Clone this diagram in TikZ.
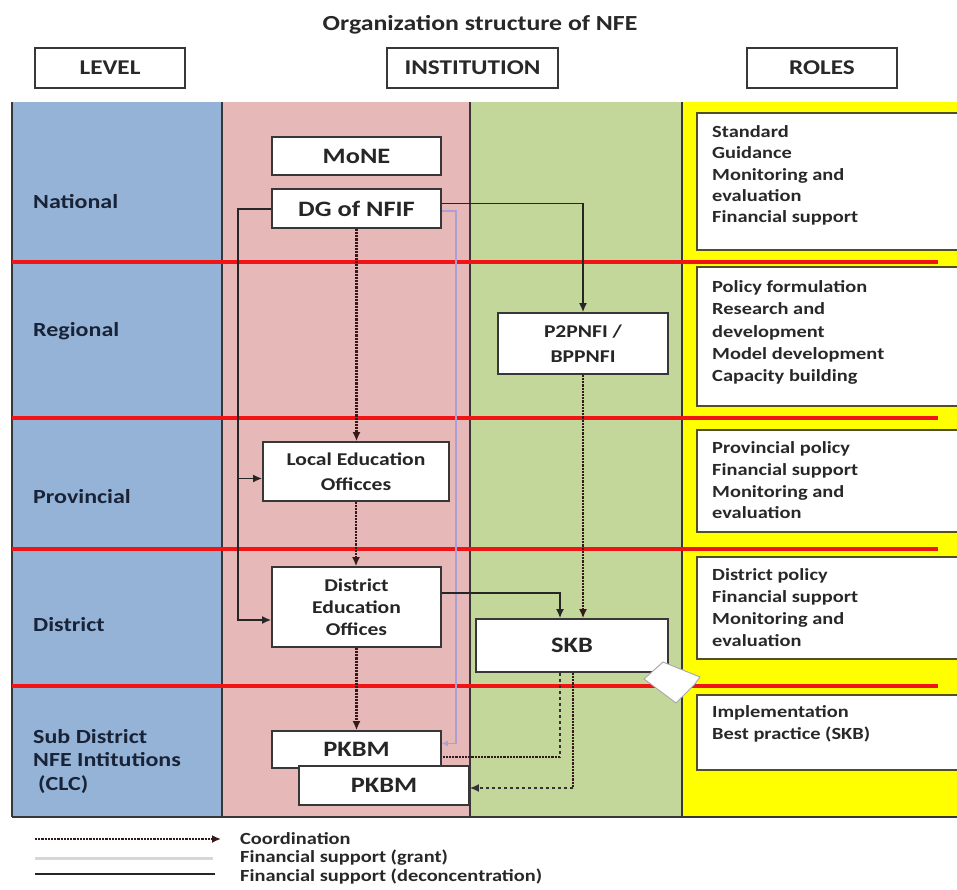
\documentclass[tikz,border=0pt]{standalone}
\usepackage{fontspec}
\setmainfont{Carlito}[FakeStretch=1.2]
\usetikzlibrary{arrows.meta,calc}
\definecolor{lvblue}{RGB}{149,179,215}
\definecolor{inpink}{RGB}{230,185,184}
\definecolor{ingreen}{RGB}{196,215,155}
\definecolor{rlyellow}{RGB}{255,255,0}
\definecolor{bandred}{RGB}{240,20,20}
\definecolor{edgegray}{RGB}{55,55,55}
\definecolor{grantc}{RGB}{170,160,215}
\definecolor{legendgrant}{RGB}{215,215,215}
\definecolor{navytext}{RGB}{25,35,55}
\definecolor{textgray}{RGB}{40,40,40}
\definecolor{coordc}{RGB}{55,25,25}
\definecolor{roleedge}{RGB}{80,80,35}
\newcommand\fsz[2]{\fontsize{#1}{#2}\selectfont}
\begin{document}
\begin{tikzpicture}[x=1pt,y=-1pt,
 hdbox/.style={draw=edgegray,line width=1.5pt,fill=white,minimum width=150pt,minimum height=40pt,inner sep=0pt,font=\fsz{21}{24}\bfseries,text=textgray},
 ibox/.style={draw=edgegray,line width=1.6pt,fill=white,inner sep=0pt,align=center,text=black!85},
 rbox/.style={draw=roleedge,line width=1.5pt,fill=white,inner sep=0pt,minimum width=262pt},
 rtext/.style={anchor=west,align=left,inner sep=0pt,text=textgray},
 lvl/.style={anchor=west,align=left,inner sep=0pt,font=\fsz{20}{23.5}\bfseries,text=navytext},
 tip/.style={-{Latex[length=9pt,width=8pt]}},
 coord/.style={densely dotted,line width=2.2pt,draw=coordc,tip},
 decon/.style={line width=1.9pt,draw=black!85,tip},
 grant/.style={line width=1.8pt,draw=grantc},
 legtext/.style={anchor=west,inner sep=0pt,font=\fsz{17}{19}\bfseries,text=textgray}
]
\useasboundingbox (0,0) rectangle (957,890);
\fill[white] (0,0) rectangle (957,890);

% band
\fill[lvblue] (12,102) rectangle (222,817);
\fill[inpink] (222,102) rectangle (470,817);
\fill[ingreen] (470,102) rectangle (682,817);
\fill[rlyellow] (682,102) rectangle (957,817);
\foreach \xx in {12,222,470,682} \draw[edgegray,line width=1.7pt] (\xx,102) -- (\xx,817);
\draw[edgegray,line width=1.7pt] (12,817) -- (957,817);
\foreach \yy in {262,418,549,686} \draw[bandred,line width=3.4pt] (12,\yy) -- (938,\yy);

% title and headers
\node[font=\fsz{21.5}{24}\bfseries,text=textgray] (title) at (480,25) {Organization structure of NFE};
\node[hdbox] (hlevel) at (110,68) {LEVEL};
\node[hdbox,minimum width=171pt] (hinst) at (472.5,68) {INSTITUTION};
\node[hdbox] (hroles) at (822,68) {ROLES};

% levels
\node[lvl] (lnat) at (33,202) {National};
\node[lvl] (lreg) at (33,331) {Regional};
\node[lvl] (lprov) at (33,497) {Provincial};
\node[lvl] (ldist) at (33,625) {District};
\node[lvl] (lsub) at (33,761) {Sub District\\NFE Intitutions\\\hspace*{5pt}(CLC)};

% roles
\node[rbox,minimum height=137pt] (r1) at (828,181.5) {};
\node[rbox,minimum height=139pt] (r2) at (828,336.5) {};
\node[rbox,minimum height=102pt] (r3) at (828,481) {};
\node[rbox,minimum height=102pt] (r4) at (828,608) {};
\node[rbox,minimum height=75pt] (r5) at (828,732.5) {};
\node[rtext,font=\fsz{17}{21.3}\bfseries] (t1) at (712,175.5) {Standard\\Guidance\\Monitoring and\\evaluation\\Financial support};
\node[rtext,font=\fsz{17}{22.2}\bfseries] (t2) at (712,332.5) {Policy formulation\\Research and\\development\\Model development\\Capacity building};
\node[rtext,font=\fsz{17}{21.7}\bfseries] (t3) at (712,480.5) {Provincial policy\\Financial support\\Monitoring and\\evaluation};
\node[rtext,font=\fsz{17}{22.2}\bfseries] (t4) at (712,607.5) {District policy\\Financial support\\Monitoring and\\evaluation};
\node[rtext,font=\fsz{17}{22}\bfseries] (t5) at (712,724) {Implementation\\Best practice (SKB)};

% institutions
\node[ibox,minimum width=169pt,minimum height=38pt,font=\fsz{22}{24}\bfseries] (mone) at (356.5,156) {MoNE};
\node[ibox,minimum width=169pt,minimum height=39pt,font=\fsz{22}{24}\bfseries] (dg) at (356.5,208.5) {DG of NFIF};
\node[ibox,minimum width=170pt,minimum height=61pt,font=\fsz{18}{25}\bfseries] (p2p) at (583,343.5) {P2PNFI /\\BPPNFI};
\node[ibox,minimum width=186pt,minimum height=59pt,font=\fsz{18}{25}\bfseries] (leo) at (356,471.5) {Local Education\\Officces};
\node[ibox,minimum width=169pt,minimum height=80pt,font=\fsz{18}{22}\bfseries] (deo) at (356.5,607) {District\\Education\\Offices};
\node[ibox,minimum width=192pt,minimum height=53pt,font=\fsz{22}{24}\bfseries] (skb) at (572,645.5) {SKB};

% grant line (behind PKBM boxes)
\coordinate (gcorner) at (456,211);
\draw[grant,-{Latex[length=6pt,width=6pt]}] (dg.east |- gcorner) -- (gcorner) |- ([yshift=6pt]dg.east |- 0,749.5);

\node[ibox,minimum width=169pt,minimum height=37pt,font=\fsz{22}{24}\bfseries] (pk1) at (356.5,749.5) {PKBM};
\node[ibox,minimum width=170pt,minimum height=39pt,font=\fsz{22}{24}\bfseries] (pk2) at (384,785.5) {PKBM};

% coordination
\draw[coord] (dg.south) -- (dg.south |- leo.north);
\draw[coord] (leo.south) -- (leo.south |- deo.north);
\draw[coord] (deo.south) -- (pk1.north);
\draw[coord] (p2p.south) -- (p2p.south |- skb.north);

% deconcentration
\draw[decon] ([yshift=5pt]dg.east) -| (p2p.north);
\coordinate (trunk) at (238,209);
\coordinate (leoin) at ([yshift=-7pt]leo.west);
\coordinate (deoin) at ([yshift=-13pt]deo.west);
\draw[decon] (dg.west |- trunk) -- (trunk) |- (deoin);
\draw[decon] (trunk |- leoin) -- (leoin);
\coordinate (deoout) at ([yshift=14pt]deo.east);
\coordinate (skbin) at ([xshift=-12pt]skb.north);
\draw[decon] (deoout) -| (skbin);

% SKB to PKBM
\coordinate (s1) at ([xshift=-12pt]skb.south);
\coordinate (pk1in) at ([yshift=-7.5pt]pk1.east);
\coordinate (c1) at (s1 |- pk1in);
\draw[dashed,line width=1.7pt,draw=black!80] (s1) -- (c1);
\draw[densely dotted,line width=2.2pt,draw=coordc] (c1) -- (pk1in);
\coordinate (s2) at ([xshift=1pt]skb.south);
\coordinate (pk2in) at ([yshift=-2.5pt]pk2.east);
\coordinate (c2) at (s2 |- pk2in);
\draw[densely dotted,line width=2.2pt,draw=coordc] (s2) -- (c2);
\draw[dashed,line width=1.7pt,draw=black!80,tip] (c2) -- (pk2in);

% block arrow
\draw[fill=white,draw=gray!70,line width=0.9pt] (663,662) -- (644,679) -- (676,703) -- (694,685) -- (700,677) -- cycle;

% legend
\coordinate (la1) at (35,839); \coordinate (la2) at (221,839);
\coordinate (lb1) at (35,858); \coordinate (lb2) at (213,858);
\coordinate (lc1) at (35,874); \coordinate (lc2) at (215,874);
\draw[coord] (la1) -- (la2);
\draw[legendgrant,line width=3pt] (lb1) -- (lb2);
\draw[black!85,line width=1.9pt] (lc1) -- (lc2);
\node[legtext] (lt1) at (240,839) {Coordination};
\node[legtext] (lt2) at (240,858) {Financial support (grant)};
\node[legtext] (lt3) at (240,877) {Financial support (deconcentration)};
\end{tikzpicture}
\end{document}
